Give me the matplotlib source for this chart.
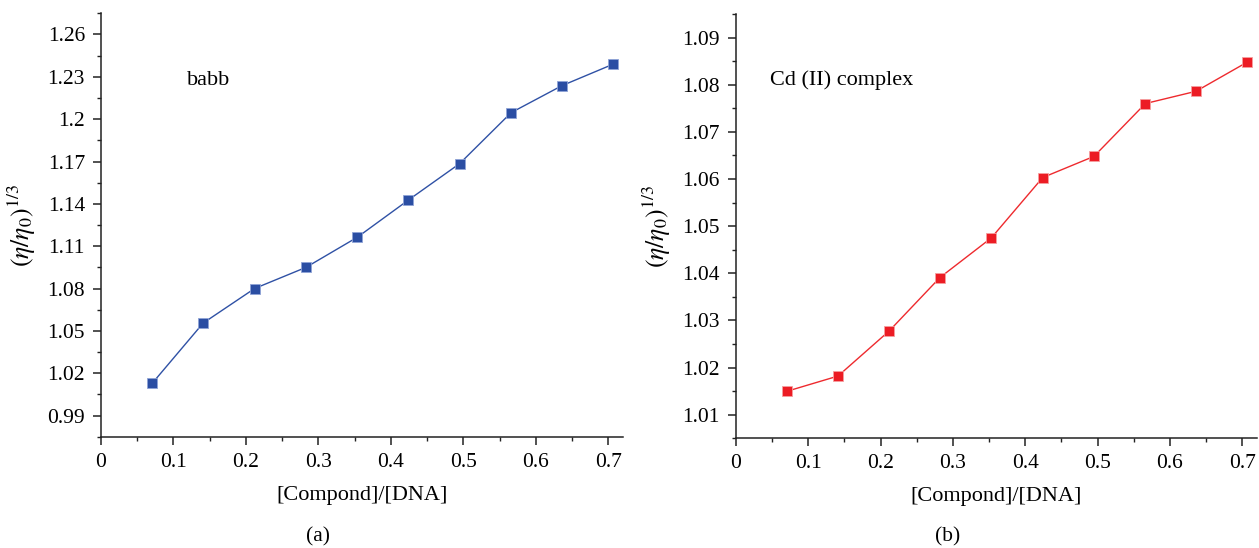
import matplotlib
matplotlib.use("Agg")
import matplotlib.pyplot as plt
from matplotlib.ticker import MultipleLocator, FuncFormatter

plt.rcParams['font.family'] = ['Liberation Serif', 'DejaVu Serif']
plt.rcParams['mathtext.fontset'] = 'stix'

# Data
ratio_a = [0.071, 0.141, 0.212, 0.283, 0.354, 0.424, 0.495, 0.566, 0.636, 0.707]
visc_a = [1.013, 1.0555, 1.080, 1.095, 1.1164, 1.1426, 1.1685, 1.2046, 1.2237, 1.239]
ratio_b = [0.071, 0.141, 0.212, 0.282, 0.353, 0.424, 0.495, 0.566, 0.636, 0.707]
visc_b = [1.0150, 1.0182, 1.0278, 1.0391, 1.0475, 1.0603, 1.0648, 1.0760, 1.0786, 1.0848]
yticks_a = [0.99, 1.02, 1.05, 1.08, 1.11, 1.14, 1.17, 1.2, 1.23, 1.26]
yticks_b = [1.01, 1.02, 1.03, 1.04, 1.05, 1.06, 1.07, 1.08, 1.09]
xticks = [0, 0.1, 0.2, 0.3, 0.4, 0.5, 0.6, 0.7]
label_a = "babb"
label_b = "Cd (II) complex"
xlabel = "[Compond]/[DNA]"
ylabel = r"$(\eta/\eta_0)^{1/3}$"

fig = plt.figure(figsize=(12.59, 5.48), dpi=100)
ax1 = fig.add_axes([0.0802, 0.2031, 0.4144, 0.7726])
ax2 = fig.add_axes([0.5846, 0.2002, 0.4136, 0.7743])

fmt = FuncFormatter(lambda v, p: "%g" % round(v, 4))

def style(ax, yt, ylim, yminor):
    ax.set_xlim(0, 0.72)
    ax.set_ylim(*ylim)
    ax.set_xticks(xticks)
    ax.set_yticks(yt)
    ax.xaxis.set_minor_locator(MultipleLocator(0.05))
    ax.yaxis.set_minor_locator(MultipleLocator(yminor))
    ax.xaxis.set_major_formatter(fmt)
    ax.yaxis.set_major_formatter(fmt)
    for s in ['top', 'right']:
        ax.spines[s].set_visible(False)
    for s in ['left', 'bottom']:
        ax.spines[s].set_linewidth(1.1)
        ax.spines[s].set_color('#222222')
    ax.tick_params(which='major', direction='out', length=5.5, width=1.1, labelsize=15.5, pad=6, color='#222222')
    ax.tick_params(which='minor', direction='out', length=3.2, width=1.0, color='#222222')
    ax.set_xlabel(xlabel, fontsize=16, labelpad=10)
    ax.set_ylabel(ylabel, fontsize=18.5, labelpad=7)

style(ax1, yticks_a, (0.975, 1.275), 0.015)
style(ax2, yticks_b, (1.005, 1.095), 0.005)

ax1.plot(ratio_a, visc_a, color='#2f51a5', lw=1.0, marker='s', markersize=7.5,
         markerfacecolor='#2b4ea3', markeredgecolor='#8fa3d6', markeredgewidth=0.6)
ax2.plot(ratio_b, visc_b, color='#ee2a2e', lw=1.0, marker='s', markersize=7.5,
         markerfacecolor='#ec1c24', markeredgecolor='#f5a0a0', markeredgewidth=0.6)

ax1.text(0.149, 1.2275, label_a, fontsize=16, ha='center', va='center')
ax2.text(0.146, 1.0809, label_b, fontsize=16, ha='center', va='center')

fig.text(318 / 1259, 1 - 537 / 548, "(a)", fontsize=15.5, ha='center', va='center')
fig.text(948 / 1259, 1 - 537 / 548, "(b)", fontsize=15.5, ha='center', va='center')

fig.savefig("out.png", dpi=100)
